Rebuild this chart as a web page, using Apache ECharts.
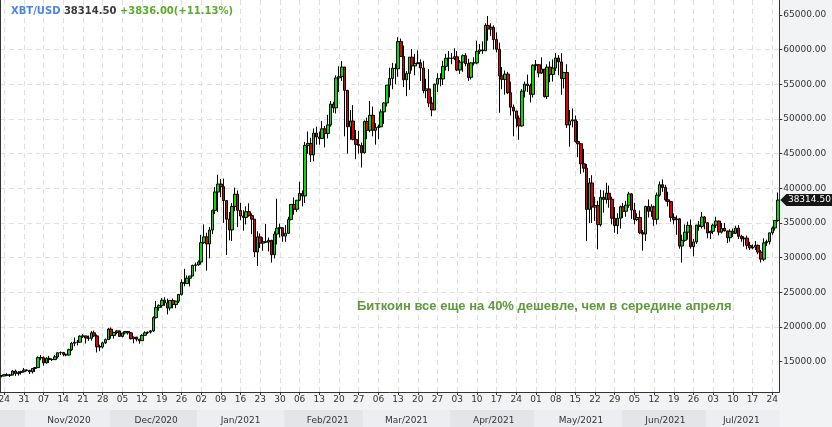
<!DOCTYPE html>
<html><head><meta charset="utf-8">
<script src="https://cdn.jsdelivr.net/npm/echarts@6/dist/echarts.min.js"></script>
<style>html,body{margin:0;padding:0;background:#f2f3f5}#c{width:832px;height:427px}</style>
</head><body><div id="c"></div>
<script>
// ---- data (daily XBT/USD candles, 2020-10-23 .. 2021-07-26) ----
const startDate = '2020-10-23';
const opens = [
 12990,12930,13120,13040,13070,13650,13280,13460,13560,
 13800,13740,13550,14020,14150,15590,15580,14840,15480,15330,15300,15700,16290,16330,16070,15960,16730,17660,17800,17820,18680,18710,18420,18370,19160,18720,17150,17140,17720,18180,
 19700,18770,19220,19440,18650,19150,19360,19170,18320,18550,18250,18030,18800,19170,19270,19440,21350,22800,23110,23860,23480,22740,23820,23240,23730,24700,26440,26270,27040,27360,28890,
 28970,29380,32170,33000,32000,33990,36820,39470,40620,40240,38240,35550,34000,37390,39150,36830,36020,35800,36630,36070,35550,30820,33000,32100,32290,32250,32510,30430,33410,34270,34320,
 33110,33520,35510,37680,36990,38290,39260,38900,46200,46480,44840,47970,47410,47190,48580,47930,49150,52150,51610,55920,56100,57490,54130,48880,49710,47060,46340,46190,
 45140,49630,48380,50540,48370,48760,48880,51030,52310,54880,55850,57330,57240,61170,59020,55660,56580,58920,57650,58030,58100,57360,54100,54340,52300,51300,55020,55840,55770,57600,58760,
 58800,58740,58970,57060,58200,59130,57990,56000,58090,58090,59770,59960,59840,63500,62970,63230,61450,60060,56220,55720,56470,53800,51700,51150,50100,49000,54020,55030,54820,53560,
 57750,57830,56630,57200,53240,57480,56430,57340,58800,58230,55850,56700,49150,49720,49880,46760,46430,43540,42910,36960,40780,37300,37530,34770,38700,38400,39290,38440,35690,34620,35680,
 37340,36690,37570,39190,36870,35520,35800,33590,33420,37390,36690,37340,35550,39020,40530,40140,38350,38090,35820,35480,35600,31680,32500,33680,34660,31590,32280,34700,34500,35870,
 35040,33570,33800,34690,35290,33690,34230,33860,32880,33810,33520,34260,33090,32730,32820,31780,31420,31530,31780,30820,29790,32140,32310,33580,34290,35360
];
const highs = [
 13030,13160,13340,13240,13790,13860,13640,13680,14100,
 13900,13830,14070,14240,15760,15970,15770,15650,15840,15470,15960,16340,16480,16330,16150,16880,17860,18480,18130,18800,18960,18760,18770,19420,19490,18920,17450,17880,18350,19860,
 19920,19300,19570,19500,19170,19410,19420,19290,18630,18560,18290,18950,19400,19330,19570,21560,23770,23280,24170,24290,24100,23840,24100,23790,24770,26870,28400,27450,27380,28990,29300,
 29600,33300,34800,33600,34440,36940,40180,41950,41350,41400,38260,36600,37860,40100,39700,37900,36850,37400,37850,36400,35600,33800,33500,32950,34860,32900,32560,33800,38500,34900,34340,
 34700,35900,37700,38700,38300,40950,39700,46700,48200,47300,48650,48900,48200,49700,49000,50600,52600,52500,56300,57600,58350,57500,54200,51300,52000,48400,48300,46600,
 49800,50200,52600,51800,49400,49200,51400,52400,54900,57400,58100,58000,61800,61600,60600,56900,58900,60100,59400,59900,58600,58400,55800,57200,53200,55100,56600,56600,58400,59400,59800,
 59500,60200,59800,58500,59300,59500,58700,58200,58900,61300,60800,61200,63800,64860,63800,63500,62500,61000,57500,57000,56800,55400,52100,51200,50500,54300,55400,56400,55100,57900,
 58500,57900,58900,57200,57900,58300,58600,59500,59200,59500,56800,57900,51300,51500,50500,49700,46500,45700,43500,41500,41900,38800,38200,39800,39700,40800,40400,38800,37300,36400,37500,
 37900,38200,39500,39300,37900,36400,36800,34000,37500,38400,37700,37500,39400,41000,41300,40500,39500,38200,36400,36100,35700,33300,34800,35200,35500,32700,34700,35300,36600,36000,
 35100,33900,34900,35900,35300,35000,35000,33900,34100,34200,34600,34700,33300,33100,33200,32300,31900,32400,31900,31100,32800,32600,33600,34500,35400,39400
];
const lows = [
 12730,12900,12910,12790,13060,12950,12990,13130,13430,
 13620,13220,13300,13530,14100,15200,14420,14720,14820,15100,15290,15450,15970,15780,15790,15880,16560,17240,17350,17760,18420,17630,18010,18040,18580,16330,16520,16890,17530,18180,
 18330,18340,18950,18580,18520,18930,18910,18200,17650,17930,17600,18020,18740,19000,19060,19300,21240,22350,22780,23060,21820,22380,22700,22710,23460,24530,25870,26200,25870,27330,28000,
 28800,29000,32000,28130,29900,33400,36300,36600,38720,35000,30400,32500,32400,36700,34400,35400,33900,34800,35900,33400,30100,28800,31400,31000,32100,30900,29300,29900,31900,32900,32300,
 32300,33420,35380,36200,36600,38200,37400,37900,45000,43800,43900,46300,46300,47100,45900,47200,48900,50900,50800,53900,55500,47500,45000,47000,46900,44200,45000,43000,
 45000,47100,48100,47500,46300,47100,48800,49300,51800,53100,54300,55000,56100,59000,54600,53300,54200,57000,56300,57900,55500,53700,53000,51700,50400,51300,53900,54700,54900,57000,56900,
 57900,58500,56900,56500,56800,57600,55500,55700,57700,57900,59400,59400,59800,61300,62000,60000,59600,50900,54300,53500,53600,50500,47500,48800,47000,48900,53100,53900,52400,53100,
 57000,56000,56500,53100,52900,55300,55400,56900,56300,53500,54400,48700,46000,48800,46600,44500,42100,42300,32400,35000,35000,35300,31200,34500,36500,37800,37200,34800,33600,33400,34200,
 35700,35900,37200,35600,34800,35300,33400,31000,32400,35800,35900,34600,34800,38800,39500,38100,37400,35200,34800,33300,31300,29300,32300,32600,31300,30200,32000,33900,34200,34100,
 32800,32700,33400,34300,33200,33500,33800,32100,32300,33000,33400,32700,32300,31600,31200,31100,31200,31100,30500,29300,29500,31700,31900,33300,33900,35200
];
const closes = [
 12930,13120,13040,13070,13650,13280,13460,13560,13800,
 13740,13550,14020,14150,15590,15580,14840,15480,15330,15300,15700,16290,16330,16070,15960,16730,17660,17800,17820,18680,18710,18420,18370,19160,18720,17150,17140,17720,18180,19700,
 18770,19220,19440,18650,19150,19360,19170,18320,18550,18250,18030,18800,19170,19270,19440,21350,22800,23110,23860,23480,22740,23820,23240,23730,24700,26440,26270,27040,27360,28890,28970,
 29380,32170,33000,32000,33990,36820,39470,40620,40240,38240,35550,34000,37390,39150,36830,36020,35800,36630,36070,35550,30820,33000,32100,32290,32250,32510,30430,33410,34270,34320,33110,
 33520,35510,37680,36990,38290,39260,38900,46200,46480,44840,47970,47410,47190,48580,47930,49150,52150,51610,55920,56100,57490,54130,48880,49710,47060,46340,46190,45140,
 49630,48380,50540,48370,48760,48880,51030,52310,54880,55850,57330,57240,61170,59020,55660,56580,58920,57650,58030,58100,57360,54100,54340,52300,51300,55020,55840,55770,57600,58760,58800,
 58740,58970,57060,58200,59130,57990,56000,58090,58090,59770,59960,59840,63500,62970,63230,61450,60060,56220,55720,56470,53800,51700,51150,50100,49000,54020,55030,54820,53560,57750,
 57830,56630,57200,53240,57480,56430,57340,58800,58230,55850,56700,49150,49720,49880,46760,46430,43540,42910,36960,40780,37300,37530,34770,38700,38400,39290,38440,35690,34620,35680,37340,
 36690,37570,39190,36870,35520,35800,33590,33420,37390,36690,37340,35550,39020,40530,40140,38350,38090,35820,35480,35600,31680,32500,33680,34660,31590,32280,34700,34500,35870,35040,
 33570,33800,34690,35290,33690,34230,33860,32880,33810,33520,34260,33090,32730,32820,31780,31420,31530,31780,30820,29790,32140,32310,33580,34290,35360,38314.5
];
const yTickValues = [15000,20000,25000,30000,35000,40000,45000,50000,55000,60000,65000];
const monthLabelDates = ['2020-11-16','2020-12-17','2021-01-16','2021-02-16','2021-03-16','2021-04-16','2021-05-17','2021-06-16','2021-07-13'];
const monthNames = ['Jan','Feb','Mar','Apr','May','Jun','Jul','Aug','Sep','Oct','Nov','Dec'];
const pairName = 'XBT/USD';
const lastPrice = 38314.50;
const priceChange = 3836.00;
const priceChangePct = 11.13;
const noteText = 'Биткоин все еще на 40% дешевле, чем в середине апреля';

// ---- build ----
const dates = [];
(function(){
  const t0 = Date.parse(startDate + 'T00:00:00Z');
  for (let i = 0; i < closes.length; i++) dates.push(new Date(t0 + i*86400000).toISOString().slice(0,10));
})();
const candleData = dates.map((d,i) => [opens[i], closes[i], lows[i], highs[i]]);
const isSat = v => new Date(v + 'T00:00:00Z').getUTCDay() === 6;
const isFirst = v => v.slice(8) === '01';
const FONT = 'DejaVu Sans';
const gridW = 779.3;
const last = dates.length - 1;

const chart = echarts.init(document.getElementById('c'), null, {renderer:'canvas'});
chart.setOption({
  animation: false,
  backgroundColor: '#f2f3f5',
  title: [
    { text: '{a|' + pairName + '} {b|' + lastPrice.toFixed(2) + '} {c|+' + priceChange.toFixed(2) + '(+' + priceChangePct.toFixed(2) + '%)}',
      left: 11, top: 6, padding: 0,
      textStyle: { fontSize: 10, fontWeight: 'bold', fontFamily: FONT,
        rich: {
          a: { color: '#4a84ee', fontSize: 10, fontWeight: 'bold', fontFamily: FONT },
          b: { color: '#3a3a3a', fontSize: 10, fontWeight: 'bold', fontFamily: FONT },
          c: { color: '#5aab2c', fontSize: 10, fontWeight: 'bold', fontFamily: FONT }
        } } },
    { text: noteText, left: 357, top: 300, padding: 0,
      textStyle: { fontSize: 13, fontWeight: 'bold', fontFamily: 'Liberation Sans, Arial', color: '#5e9a3b' } }
  ],
  grid: [
    { left: 0, top: 0, width: gridW, height: 392, show: true, backgroundColor: '#ffffff', borderWidth: 0, containLabel: false, outerBoundsMode: 'none' },
    { left: 0, top: 410, width: gridW, height: 17, show: false, containLabel: false, outerBoundsMode: 'none' }
  ],
  xAxis: [
    { type: 'category', data: dates, gridIndex: 0, boundaryGap: true,
      axisLine: { show: true, onZero: false, lineStyle: { color: '#333', width: 1 } },
      axisTick: { show: true, alignWithLabel: true, interval: (i,v) => isSat(v), length: 3, lineStyle: { color: '#333' } },
      axisLabel: { show: true, interval: (i,v) => isSat(v), formatter: v => v.slice(8), fontSize: 9, fontFamily: FONT, color: '#333', margin: 3 },
      splitLine: { show: true, alignWithLabel: true, interval: (i,v) => isSat(v), lineStyle: { color: '#e0e0e0', type: [5,4], width: 1 } } },
    { type: 'category', data: dates, gridIndex: 1, boundaryGap: true,
      axisLine: { show: false }, axisTick: { show: false },
      axisLabel: { show: true, inside: true, interval: (i,v) => monthLabelDates.includes(v),
        formatter: v => monthNames[parseInt(v.slice(5,7),10)-1] + '/' + v.slice(0,4),
        fontSize: 9, fontFamily: FONT, color: '#333', margin: 2 },
      splitLine: { show: false },
      splitArea: { show: true, interval: (i,v) => isFirst(v), areaStyle: { color: ['#e3e5e8','#eceef1'] } } }
  ],
  yAxis: [
    { type: 'value', gridIndex: 0, position: 'right', min: 10630, max: 67163, splitNumber: 11,
      axisLine: { show: true, lineStyle: { color: '#333', width: 1 } },
      axisTick: { show: true, length: 3, customValues: yTickValues, lineStyle: { color: '#333' } },
      axisLabel: { show: true, customValues: yTickValues, formatter: v => Number(v).toFixed(2), fontSize: 9, fontFamily: FONT, color: '#333', margin: 4 },
      splitLine: { show: true, showMinLine: false, showMaxLine: false, lineStyle: { color: '#e0e0e0', type: [5,4], width: 1 } } },
    { type: 'value', gridIndex: 0, position: 'left', min: 0, max: 1,
      axisLine: { show: true, lineStyle: { color: '#333', width: 1 } },
      axisTick: { show: false }, axisLabel: { show: false }, splitLine: { show: false } },
    { type: 'value', gridIndex: 1, show: false }
  ],
  series: [{
    type: 'candlestick', xAxisIndex: 0, yAxisIndex: 0, data: candleData,
    barWidth: 3, clip: false,
    itemStyle: { color: '#00e000', color0: '#e00000', borderColor: '#000', borderColor0: '#000', borderColorDoji: '#000', borderWidth: 1 },
    emphasis: { disabled: true },
    markPoint: {
      silent: true, animation: false,
      symbol: 'path://M0,6L6,0L52,0L52,12L6,12Z', symbolSize: [52, 12], symbolKeepAspect: false, symbolOffset: [28.5, 0],
      itemStyle: { color: '#161616', borderWidth: 0 },
      label: { show: true, position: 'inside', formatter: p => Number(p.value).toFixed(2), color: '#fff', fontSize: 9, fontFamily: FONT, offset: [3, 0] },
      data: [{ coord: [dates[last], closes[last]], value: closes[last] }]
    }
  }]
});
</script></body></html>
